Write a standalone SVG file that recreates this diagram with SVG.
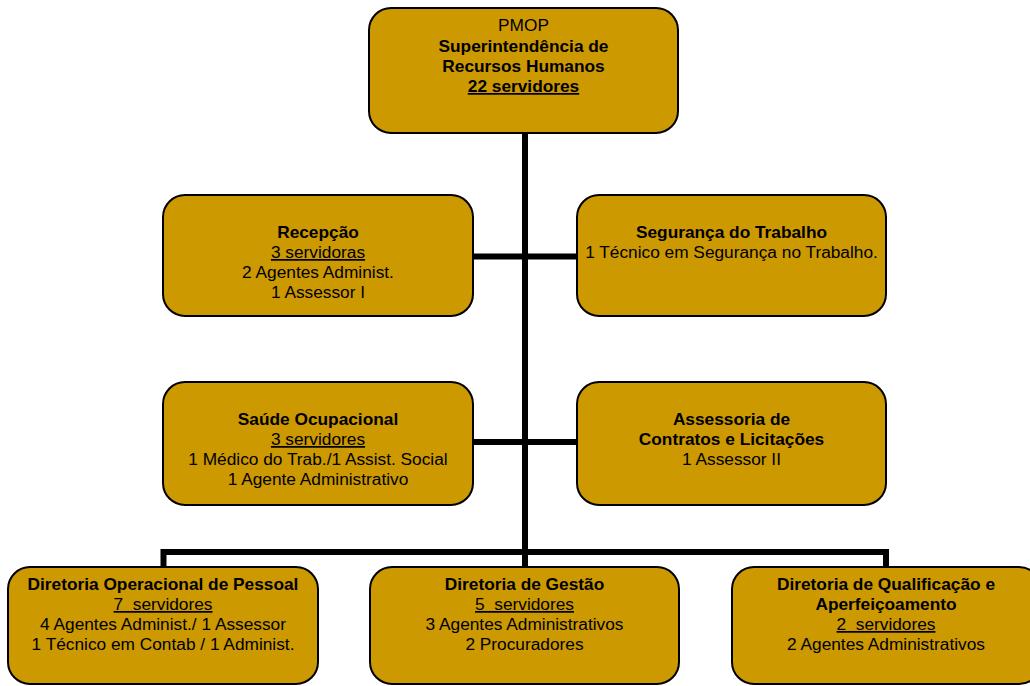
<svg xmlns="http://www.w3.org/2000/svg" width="1030" height="686" viewBox="0 0 1030 686">
<style>
.box{fill:#CC9900;stroke:#000;stroke-width:2}
.conn{stroke:#000;stroke-width:6;fill:none;stroke-linecap:butt}
text{font-family:"Liberation Sans",Arial,sans-serif;font-size:17.3px;fill:#000;text-anchor:middle}
.b{font-weight:bold}
.u{text-decoration:underline}
</style>
<rect width="1030" height="686" fill="#fff"/>
<g id="connectors">
<path class="conn" d="M525 133 V552"/>
<path class="conn" d="M473 256.5 H577"/>
<path class="conn" d="M473 442 H577"/>
<path class="conn" d="M163.5 567 V552 H886 V567"/>
<path class="conn" d="M525 552 V567"/>
</g>
<g id="pmop">
<rect class="box" x="369" y="8" width="309" height="125" rx="22"/>
<text x="523.5" y="31">PMOP</text>
<text class="b" x="523.5" y="52">Superintendência de</text>
<text class="b" x="523.5" y="72">Recursos Humanos</text>
<text class="b u" x="523.5" y="92">22 servidores</text>
</g>
<g id="recepcao">
<rect class="box" x="163" y="195" width="310" height="121" rx="22"/>
<text class="b" x="318" y="238">Recepção</text>
<text class="u" x="318" y="258">3 servidoras</text>
<text x="318" y="278">2 Agentes Administ.</text>
<text x="318" y="298">1 Assessor I</text>
</g>
<g id="seguranca">
<rect class="box" x="577" y="195" width="309" height="121" rx="22"/>
<text class="b" x="731.5" y="238">Segurança do Trabalho</text>
<text x="731.5" y="258">1 Técnico em Segurança no Trabalho.</text>
</g>
<g id="saude">
<rect class="box" x="163" y="382" width="310" height="123" rx="22"/>
<text class="b" x="318" y="425">Saúde Ocupacional</text>
<text class="u" x="318" y="445">3 servidores</text>
<text x="318" y="465">1 Médico do Trab./1 Assist. Social</text>
<text x="318" y="485">1 Agente Administrativo</text>
</g>
<g id="assessoria">
<rect class="box" x="577" y="382" width="309" height="123" rx="22"/>
<text class="b" x="731.5" y="425">Assessoria de</text>
<text class="b" x="731.5" y="445">Contratos e Licitações</text>
<text x="731.5" y="465">1 Assessor II</text>
</g>
<g id="dir-operacional">
<rect class="box" x="8" y="567" width="310" height="117" rx="22"/>
<text class="b" x="163" y="590">Diretoria Operacional de Pessoal</text>
<text class="u" x="163" y="610" xml:space="preserve">7  servidores</text>
<text x="163" y="630">4 Agentes Administ./ 1 Assessor</text>
<text x="163" y="650">1 Técnico em Contab / 1 Administ.</text>
</g>
<g id="dir-gestao">
<rect class="box" x="370" y="567" width="309" height="117" rx="22"/>
<text class="b" x="524.5" y="590">Diretoria de Gestão</text>
<text class="u" x="524.5" y="610" xml:space="preserve">5  servidores</text>
<text x="524.5" y="630">3 Agentes Administrativos</text>
<text x="524.5" y="650">2 Procuradores</text>
</g>
<g id="dir-qualificacao">
<rect class="box" x="732" y="567" width="309" height="117" rx="22"/>
<text class="b" x="886" y="590">Diretoria de Qualificação e</text>
<text class="b" x="886" y="610">Aperfeiçoamento</text>
<text class="u" x="886" y="630" xml:space="preserve">2  servidores</text>
<text x="886" y="650">2 Agentes Administrativos</text>
</g>
</svg>
